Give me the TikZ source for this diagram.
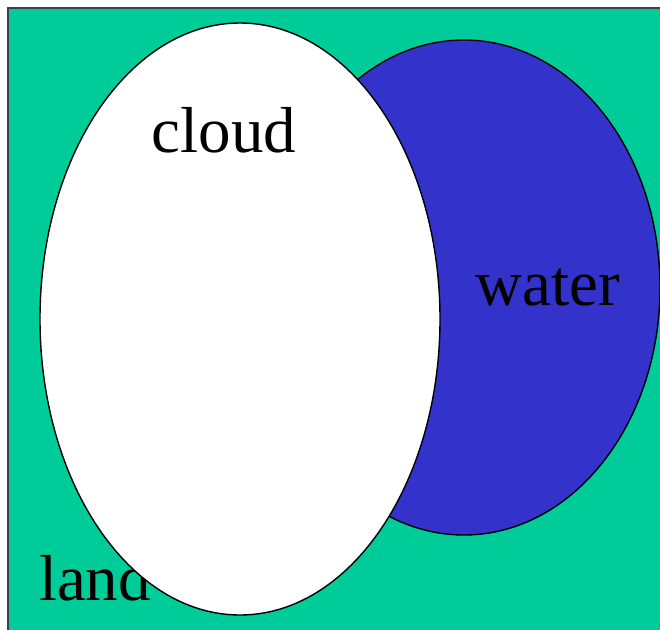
\documentclass[tikz,border=0pt]{standalone}
\usepackage{fontspec}
\setmainfont{Liberation Serif}
\usepackage{xcolor}
\definecolor{landgreen}{HTML}{00CC99}
\definecolor{waterblue}{HTML}{3333CC}

\tikzset{
  region/.style={draw=black,line width=1.4pt},
  word/.style={anchor=base,inner sep=0pt,font=\fontsize{65}{65}\selectfont}
}

\begin{document}
\begin{tikzpicture}[x=1pt,y=-1pt]
\useasboundingbox (0,0) rectangle (660,629);
% land
\draw[region,fill=landgreen,draw=black!75] (8,8) rectangle (668,640);
\node[word] (land) at (95,600) {land};
% water
\draw[region,fill=waterblue] (464,287.5) ellipse [x radius=196,y radius=247.5];
% cloud
\draw[region,fill=white] (240,319) ellipse [x radius=200,y radius=296];
\node[word] (cloud) at (224,152) {cloud};
\node[word] (water) at (548,305) {water};
\end{tikzpicture}
\end{document}
